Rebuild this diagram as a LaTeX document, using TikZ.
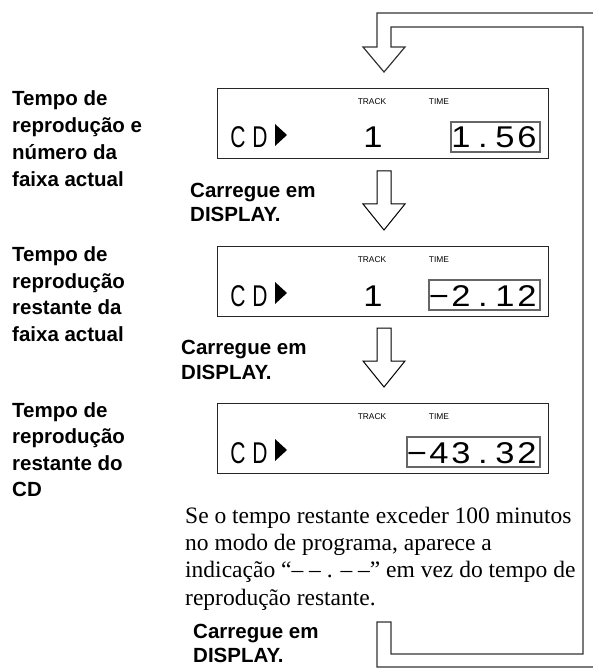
\documentclass[tikz,border=0pt]{standalone}
\usepackage{fontspec}
\usepackage{graphicx}
\setmainfont{Liberation Serif}
\setsansfont{Liberation Sans}
\newfontfamily\lcdfont{Liberation Sans}
\newcommand\lcdw[1]{\scalebox{1.15}[1]{#1}}
\newcommand\lcdn[1]{\scalebox{0.7}[1]{#1}}
\tikzset{
  lbl/.style={anchor=base west, inner sep=0pt, font=\sffamily\bfseries\fontsize{20.5}{26.6}\selectfont},
  para/.style={anchor=base west, inner sep=0pt, font=\fontsize{23.5}{27.4}\selectfont},
  lcd/.style={anchor=base, inner sep=0pt, font=\lcdfont\fontsize{30}{30}\selectfont},
  tiny/.style={inner sep=0pt, font=\sffamily\fontsize{8.4}{8.4}\selectfont},
  disp/.style={draw=black!85, line width=1.3pt, anchor=north west, inner sep=0pt, minimum width=331pt, minimum height=70pt},
  tbox/.style={draw=black!60, line width=2pt},
  hollow/.style={draw=black, line width=1pt, fill=white, line join=miter},
  loopline/.style={draw=black!80, line width=1.2pt, line join=miter}
}
\begin{document}
\begin{tikzpicture}[x=1pt,y=-1pt]
\useasboundingbox (0,0) rectangle (592,668);

% big return loop with top arrow
\draw[loopline] (377,47) -- (377,13) -- (596,13) -- (596,667) -- (377,667) -- (377,622)
  -- (391,622) -- (391,654) -- (583,654) -- (583,27) -- (391,27) -- (391,47)
  -- (405,47) -- (384,72) -- (363,47) -- cycle;

% small hollow arrows
\draw[hollow] (377,171) -- ++(14,0) -- ++(0,33) -- ++(14,0) -- ++(-21,26) -- ++(-21,-26) -- ++(14,0) -- cycle;
\draw[hollow] (377,328) -- ++(14,0) -- ++(0,33) -- ++(14,0) -- ++(-21,26) -- ++(-21,-26) -- ++(14,0) -- cycle;

% displays
\foreach \T/\nm in {88/a,246/b,403/c}{
  \node[disp] (disp\nm) at (217,\T) {};
  \node[tiny] (track\nm) at (372,\T+14) {TRACK};
  \node[tiny] (time\nm) at (439,\T+14) {TIME};
  \node[lcd] (c\nm) at (238,\T+60) {\lcdn{C}};
  \node[lcd] (d\nm) at (260,\T+60) {\lcdn{D}};
  \fill[black] (275,\T+36) -- (275,\T+58) -- (287,\T+47) -- cycle;
}
\node[lcd] (tna) at (373,148) {\lcdw{1}};
\node[lcd] (tnb) at (373,306) {\lcdw{1}};

% time boxes
\draw[tbox] (451,122) rectangle (540,152);
\node[lcd] (ta1) at (461,148) {\lcdw{1}};
\node[lcd] (ta2) at (483,148) {\lcdw{.}};
\node[lcd] (ta3) at (505,148) {\lcdw{5}};
\node[lcd] (ta4) at (527,148) {\lcdw{6}};

\draw[tbox] (429,280) rectangle (540,310);
\node[lcd] (tb1) at (439,306) {\lcdw{−}};
\node[lcd] (tb2) at (461,306) {\lcdw{2}};
\node[lcd] (tb3) at (483,306) {\lcdw{.}};
\node[lcd] (tb4) at (505,306) {\lcdw{1}};
\node[lcd] (tb5) at (527,306) {\lcdw{2}};

\draw[tbox] (407,437) rectangle (540,467);
\node[lcd] (tc1) at (417,463) {\lcdw{−}};
\node[lcd] (tc2) at (439,463) {\lcdw{4}};
\node[lcd] (tc3) at (461,463) {\lcdw{3}};
\node[lcd] (tc4) at (483,463) {\lcdw{.}};
\node[lcd] (tc5) at (505,463) {\lcdw{3}};
\node[lcd] (tc6) at (527,463) {\lcdw{2}};

% left labels
\node[lbl] (l1a) at (12,106) {Tempo de};
\node[lbl] (l1b) at (12,132.7) {reprodução e};
\node[lbl] (l1c) at (12,159.3) {número da};
\node[lbl] (l1d) at (12,186) {faixa actual};

\node[lbl] (l2a) at (12,261.5) {Tempo de};
\node[lbl] (l2b) at (12,288) {reprodução};
\node[lbl] (l2c) at (12,314.7) {restante da};
\node[lbl] (l2d) at (12,341.3) {faixa actual};

\node[lbl] (l3a) at (12,417) {Tempo de};
\node[lbl] (l3b) at (12,443.6) {reprodução};
\node[lbl] (l3c) at (12,470.2) {restante do};
\node[lbl] (l3d) at (12,496.8) {CD};

% carregue labels
\node[lbl] (k1a) at (190,197) {Carregue em};
\node[lbl] (k1b) at (190,222) {DISPLAY.};
\node[lbl] (k2a) at (181,354) {Carregue em};
\node[lbl] (k2b) at (181,379) {DISPLAY.};
\node[lbl] (k3a) at (193,638) {Carregue em};
\node[lbl] (k3b) at (193,662) {DISPLAY.};

% note paragraph
\node[para] (p1) at (185,523) {Se o tempo restante exceder 100 minutos};
\node[para] (p2) at (185,550) {no modo de programa, aparece a};
\node[para] (p3) at (185,577.5) {indicação “– – . – –” em vez do tempo de};
\node[para] (p4) at (185,605) {reprodução restante.};
\end{tikzpicture}
\end{document}
